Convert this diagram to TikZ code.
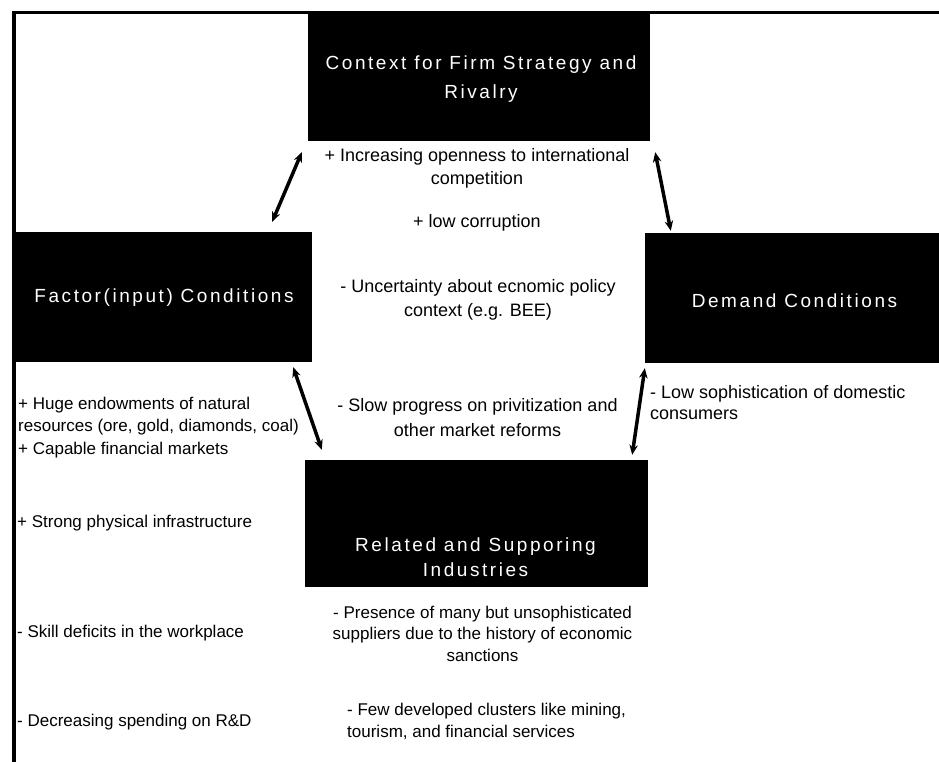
\documentclass[tikz,border=0pt]{standalone}
\usepackage{fontspec}
\setmainfont{Liberation Sans}
\newfontfamily\titlefont[LetterSpace=13.5]{Liberation Sans}
\usetikzlibrary{arrows.meta,calc}

\begin{document}
\begin{tikzpicture}[x=1pt,y=-1pt,
  box/.style={fill=black, draw=none, inner sep=0pt},
  title/.style={text=white, font=\titlefont\fontsize{19}{#1}\selectfont, align=center, inner sep=0pt},
  title/.default=27,
  note/.style={font=\fontsize{18}{#1}\selectfont, align=center, inner sep=0pt},
  note/.default=23,
  side/.style={font=\fontsize{17}{#1}\selectfont, align=left, anchor=west, inner sep=0pt},
  side/.default=22.5,
  link/.style={line width=3.5pt, {Stealth[length=10pt,width=8.5pt]}-{Stealth[length=10pt,width=8.5pt]}},
  frame/.style={line width=3.5pt}]

\useasboundingbox (0,0) rectangle (939,762);

% outer frame: top and left edges
\coordinate (fTop) at (939,12.5);
\coordinate (fCorner) at (14,12.5);
\coordinate (fBottom) at (14,762);
\draw[frame] (fBottom) -- (fCorner) -- (fTop);

% the four black boxes
\node[box, minimum width=342pt, minimum height=129pt] (ctx) at (479,76.5) {};
\node[box, minimum width=298pt, minimum height=130pt] (fac) at (163,297) {};
\node[box, minimum width=294pt, minimum height=130pt] (dem) at (792,298) {};
\node[box, minimum width=343pt, minimum height=127pt] (rel) at (476.5,523.5) {};

% box titles
\node[title=29] (ctxT) at (481,79.5) {Context for Firm Strategy and\\Rivalry};
\node[title] (facT) at (164,298) {Factor(input) Conditions};
\node[title] (demT) at (794.5,301) {Demand Conditions};
\node[title=25] (relT) at (475.5,557.5) {Related and Supporing\\Industries};

% double-headed links between the boxes
\draw[link] ($(ctx.south west)+(-6,11)$) -- ($(fac.north east)+(-40,-10)$);
\draw[link] ($(ctx.south east)+(5,11)$) -- ($(dem.north west)+(26,-2)$);
\draw[link] ($(fac.south east)+(-19,5)$) -- ($(rel.north west)+(17,-10)$);
\draw[link] ($(dem.south west)+(0,5)$) -- ($(rel.north east)+(-16,-5)$);

% notes on firm strategy and rivalry
\node[note=23] (n1) at (477,168.5) {+ Increasing openness to international\\competition};
\node[note] (n2) at (477,223) {+ low corruption};
\node[note=24] (n3) at (478,300) {- Uncertainty about ecnomic policy\\context (e.g. BEE)};
\node[note=25] (n4) at (477.5,417.5) {- Slow progress on privitization and\\other market reforms};

% notes on demand conditions
\node[side=21.6, font=\fontsize{18}{21.6}\selectfont] (r1) at (650,402.5) {- Low sophistication of domestic\\consumers};

% notes on factor conditions
\node[side] (l1) at (18,427.5) {+ Huge endowments of natural\\resources (ore, gold, diamonds, coal)\\+ Capable financial markets};
\node[side] (l2) at (17,523) {+ Strong physical infrastructure};
\node[side] (l3) at (17,633) {- Skill deficits in the workplace};
\node[side] (l4) at (17,722) {- Decreasing spending on R\&D};

% notes on related and supporting industries
\node[note=21.5, font=\fontsize{17}{21.5}\selectfont] (b1) at (482.5,633.5) {- Presence of many but unsophisticated\\suppliers due to the history of economic\\sanctions};
\node[side=22] (b2) at (347,721) {- Few developed clusters like mining,\\tourism, and financial services};

\end{tikzpicture}
\end{document}
